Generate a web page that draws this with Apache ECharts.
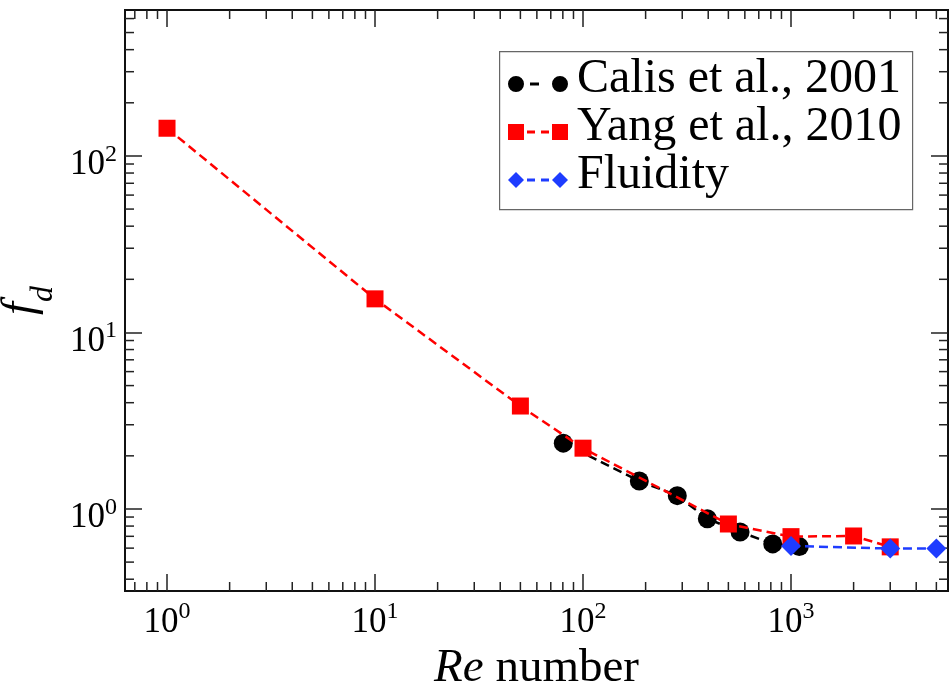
<!DOCTYPE html>
<html>
<head>
<meta charset="utf-8">
<script src="https://cdn.jsdelivr.net/npm/echarts@6/dist/echarts.min.js"></script>
<style>
html,body{margin:0;padding:0;background:#fff;}
#chart{width:951px;height:685px;}
</style>
</head>
<body>
<div id="chart"></div>
<script>
// ---- data ----
const seriesNames = ['Calis et al., 2001', 'Yang et al., 2010', 'Fluidity'];
const calisRe = [80.4, 186.5, 284, 396, 569, 817, 1096];
const calisFd = [2.36, 1.44, 1.19, 0.881, 0.741, 0.634, 0.612];
const yangRe = [1, 10, 50, 100, 500, 1000, 2000, 3000];
const yangFd = [143.5, 15.5, 3.83, 2.21, 0.822, 0.697, 0.703, 0.61];
const fluidRe = [1000, 3000, 5000];
const fluidFd = [0.617, 0.597, 0.597];

// axis ranges and ticks
const X_MIN = 0.628, X_MAX = 5687;
const Y_MIN = 0.343, Y_MAX = 671;
const majorX = [1, 10, 100, 1000];
const minorX = [0.7, 0.8, 0.9, 2, 3, 4, 5, 6, 7, 8, 9, 20, 30, 40, 50, 60, 70, 80, 90,
  200, 300, 400, 500, 600, 700, 800, 900, 2000, 3000, 4000, 5000];
const majorY = [1, 10, 100];
const minorY = [0.4, 0.5, 0.6, 0.7, 0.8, 0.9, 2, 3, 4, 5, 6, 7, 8, 9, 20, 30, 40, 50, 60, 70, 80, 90,
  200, 300, 400, 500, 600];

const FONT = "'Liberation Serif', 'Times New Roman', serif";
const TICK_COLOR = '#222';
const MAJOR_LEN = 17, MINOR_LEN = 9;

function zip(a, b) { return a.map((v, i) => [v, b[i]]); }
function powLabel(v) {
  const e = Math.round(Math.log10(v));
  return '{b|10}{s|' + e + '}';
}
const labelRich = {
  b: { fontFamily: FONT, fontSize: 35, color: '#000', lineHeight: 45 },
  s: { fontFamily: FONT, fontSize: 24, color: '#000', lineHeight: 17, verticalAlign: 'top' }
};

const chart = echarts.init(document.getElementById('chart'), null, { renderer: 'canvas' });

const legendIcons = [
  'path://M30,0 M0,18A8,8 0 1,1 16,18A8,8 0 1,1 0,18Z M22,16.5L31,16.5L31,19.5L22,19.5Z M44,18A8,8 0 1,1 60,18A8,8 0 1,1 44,18Z',
  'path://M30,0 M0,10L16,10L16,26L0,26Z M19,16.5L27,16.5L27,19.5L19,19.5Z M33,16.5L41,16.5L41,19.5L33,19.5Z M44,10L60,10L60,26L44,26Z',
  'path://M30,0 M8,10L16,18L8,26L0,18Z M19,16.5L27,16.5L27,19.5L19,19.5Z M33,16.5L41,16.5L41,19.5L33,19.5Z M52,10L60,18L52,26L44,18Z'
];

function axisCommon() {
  return { type: 'log', logBase: 10, splitLine: { show: false }, axisLine: { show: false } };
}

const option = {
  backgroundColor: '#fff',
  animation: false,
  grid: {
    left: 125, right: 3, top: 10, bottom: 94,
    show: true, borderColor: '#111', borderWidth: 2, backgroundColor: 'transparent',
    containLabel: false, outerBoundsMode: 'none'
  },
  graphic: [{
    type: 'rect', left: 499, top: 51, z: 50,
    shape: { width: 413, height: 158 },
    style: { fill: '#fff', stroke: '#666', lineWidth: 1.2 }
  }],
  legend: {
    orient: 'vertical',
    left: 508, top: 55, z: 60,
    padding: 0,
    itemWidth: 60, itemHeight: 26, itemGap: 0,
    formatter: '{t|{name}}',
    textStyle: { fontFamily: FONT, fontSize: 48, color: '#000',
      rich: { t: { fontFamily: FONT, fontSize: 48, color: '#000', padding: [0, 0, 0, 4] } } },
    data: seriesNames.map((n, i) => ({ name: n, icon: legendIcons[i] })),
    selectedMode: false
  },
  xAxis: [
    Object.assign(axisCommon(), {
      position: 'bottom', min: X_MIN, max: X_MAX,
      axisTick: { inside: true, length: MAJOR_LEN, customValues: majorX, lineStyle: { color: TICK_COLOR, width: 1.5 } },
      axisLabel: { customValues: majorX, formatter: powLabel, rich: labelRich, margin: 9 },
      name: '{i|Re}{n| number}',
      nameLocation: 'middle', nameGap: 49,
      nameTextStyle: { fontFamily: FONT, fontSize: 47, color: '#000', rich: {
        i: { fontFamily: FONT, fontSize: 47, fontStyle: 'italic', color: '#000', lineHeight: 47 },
        n: { fontFamily: FONT, fontSize: 47, color: '#000', lineHeight: 47 }
      } }
    }),
    Object.assign(axisCommon(), {
      position: 'top', min: X_MIN, max: X_MAX,
      axisTick: { inside: true, length: MAJOR_LEN, customValues: majorX, lineStyle: { color: TICK_COLOR, width: 1.5 } },
      axisLabel: { show: false }
    })
  ],
  yAxis: [
    Object.assign(axisCommon(), {
      position: 'left', min: Y_MIN, max: Y_MAX,
      axisTick: { inside: true, length: MAJOR_LEN, customValues: majorY, lineStyle: { color: TICK_COLOR, width: 1.5 } },
      axisLabel: { customValues: majorY, formatter: powLabel, rich: labelRich, margin: 8, padding: [18, 0, 0, 0] },
      name: '{f|f}{d|d}',
      nameLocation: 'middle', nameGap: 61,
      nameTextStyle: { fontFamily: FONT, fontSize: 47, color: '#000', rich: {
        f: { fontFamily: FONT, fontSize: 47, fontStyle: 'italic', color: '#000', lineHeight: 76 },
        d: { fontFamily: FONT, fontSize: 32, fontStyle: 'italic', color: '#000', lineHeight: 32, verticalAlign: 'bottom' }
      } }
    }),
    Object.assign(axisCommon(), {
      position: 'right', min: Y_MIN, max: Y_MAX,
      axisTick: { inside: true, length: MAJOR_LEN, customValues: majorY, lineStyle: { color: TICK_COLOR, width: 1.5 } },
      axisLabel: { show: false }
    })
  ],
  series: [
    {
      type: 'custom', silent: true, xAxisIndex: 0, yAxisIndex: 0, z: 1,
      data: minorX.map(v => [v, 1]),
      renderItem: function (params, api) {
        const v = api.value(0);
        const b = api.coord([v, Y_MIN]);
        const t = api.coord([v, Y_MAX]);
        const st = { stroke: TICK_COLOR, lineWidth: 1.5 };
        return { type: 'group', children: [
          { type: 'line', shape: { x1: b[0], y1: b[1], x2: b[0], y2: b[1] - MINOR_LEN }, style: st },
          { type: 'line', shape: { x1: t[0], y1: t[1], x2: t[0], y2: t[1] + MINOR_LEN }, style: st }
        ] };
      }
    },
    {
      type: 'custom', silent: true, xAxisIndex: 0, yAxisIndex: 0, z: 1,
      data: minorY.map(v => [1, v]),
      renderItem: function (params, api) {
        const v = api.value(1);
        const l = api.coord([X_MIN, v]);
        const r = api.coord([X_MAX, v]);
        const st = { stroke: TICK_COLOR, lineWidth: 1.5 };
        return { type: 'group', children: [
          { type: 'line', shape: { x1: l[0], y1: l[1], x2: l[0] + MINOR_LEN, y2: l[1] }, style: st },
          { type: 'line', shape: { x1: r[0], y1: r[1], x2: r[0] - MINOR_LEN, y2: r[1] }, style: st }
        ] };
      }
    },
    {
      name: seriesNames[0], type: 'line', xAxisIndex: 0, yAxisIndex: 0, z: 3,
      data: zip(calisRe, calisFd),
      symbol: 'circle', symbolSize: 19,
      itemStyle: { color: '#000' },
      lineStyle: { color: '#000', width: 2.5, type: [9, 5] }
    },
    {
      name: seriesNames[1], type: 'line', xAxisIndex: 0, yAxisIndex: 0, z: 4,
      data: zip(yangRe, yangFd),
      symbol: 'rect', symbolSize: 17,
      itemStyle: { color: '#ff0000' },
      lineStyle: { color: '#ff0000', width: 2.5, type: [9, 5] }
    },
    {
      name: seriesNames[2], type: 'line', xAxisIndex: 0, yAxisIndex: 0, z: 5,
      data: zip(fluidRe, fluidFd),
      symbol: 'diamond', symbolSize: [20, 20],
      itemStyle: { color: '#1e3cff' },
      lineStyle: { color: '#1e3cff', width: 2.5, type: [9, 5] }
    }
  ]
};
chart.setOption(option);
</script>
</body>
</html>
